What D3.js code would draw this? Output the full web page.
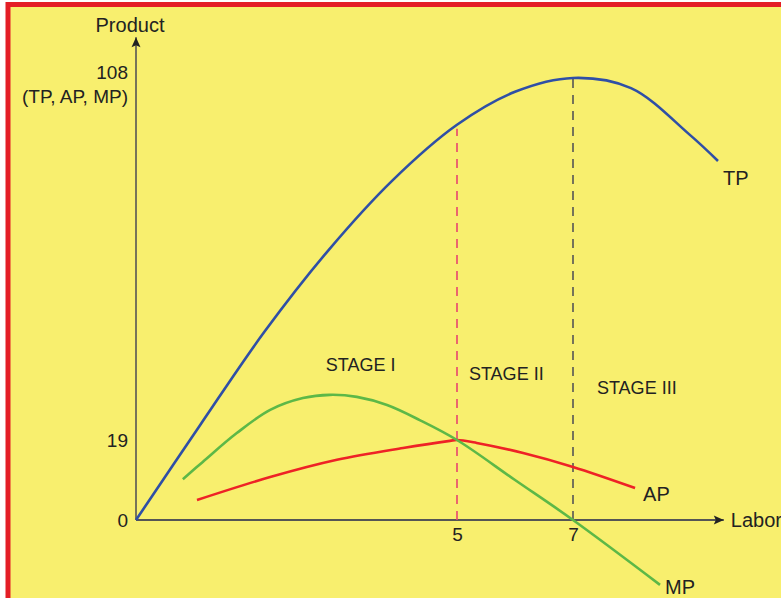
<!DOCTYPE html>
<html>
<head>
<meta charset="utf-8">
<script src="https://cdn.jsdelivr.net/npm/d3@7"></script>
<style>
  body { margin: 0; background: #fff; }
  text { font-family: "Liberation Sans", Arial, sans-serif; fill: #222; }
</style>
</head>
<body>
<div id="chart"></div>
<script>
// labor units and product values
var tpLabor = [0, 1, 2, 3, 4, 5, 6, 7, 8, 9, 9.5];
var tpValues = [0, 22.7, 45.6, 65.7, 82.9, 96.5, 104.6, 108, 105.5, 94.2, 87.6];

var apLabor = [0.95, 2.09, 3.13, 4.16, 4.89, 5, 5.34, 6.14, 7, 8.07];
var apValues = [4.75, 10.2, 14.3, 17.1, 18.8, 19, 18.3, 15.9, 12.6, 7.6];

var mpLabor = [0.73, 1.04, 1.57, 2.09, 2.6, 3.02, 3.44, 3.91, 4.42, 5, 6, 7, 8.5];
var mpValues = [9.7, 13.8, 20.7, 26.4, 29.3, 30.1, 29.6, 27.6, 23.9, 19, 9.5, 0, -15.4];

var xTicks = [5, 7];
var yTicks = [0, 19, 108];
var stages = ["STAGE I", "STAGE II", "STAGE III"];
var stageLabor = [3.5, 5.85, 8.1];
var stageValue = [37.5, 35.2, 31.8];

var width = 781, height = 598;

var svg = d3.select("#chart")
  .append("svg")
    .attr("width", width)
    .attr("height", height);

// yellow panel with red frame (top and left edges visible)
svg.append("rect")
    .attr("x", 8)
    .attr("y", 4.5)
    .attr("width", 900)
    .attr("height", 700)
    .style("fill", "#f8ef6e")
    .style("stroke", "#e41e26")
    .style("stroke-width", 5);

// schematic scales (not evenly spaced in the original)
var x = d3.scaleLinear().domain([0, 5, 7]).range([136, 457, 573]);
var y = d3.scaleLinear().domain([0, 19, 108]).range([520, 440, 78]);

var xEnd = 9.6, yEnd = 118;

svg.append("defs").append("marker")
    .attr("id", "arrow")
    .attr("viewBox", "0 -5 10 10")
    .attr("refX", 10)
    .attr("refY", 0)
    .attr("markerUnits", "userSpaceOnUse")
    .attr("markerWidth", 12)
    .attr("markerHeight", 10)
    .attr("orient", "auto")
  .append("path")
    .attr("d", "M0,-4.5L10,0L0,4.5L2,0Z")
    .style("fill", "#222");

// axis lines
svg.append("line")
    .attr("x1", x(0)).attr("y1", y(0))
    .attr("x2", x(xEnd)).attr("y2", y(0))
    .style("stroke", "#555")
    .style("stroke-width", 2)
    .attr("marker-end", "url(#arrow)");
svg.append("line")
    .attr("x1", x(0)).attr("y1", y(0))
    .attr("x2", x(0)).attr("y2", y(yEnd))
    .style("stroke", "#555")
    .style("stroke-width", 1.6)
    .attr("marker-end", "url(#arrow)");

// tick labels
var xAxis = svg.append("g")
    .attr("transform", "translate(0," + y(0) + ")")
    .call(d3.axisBottom(x).tickValues(xTicks).tickFormat(d3.format("d")).tickSize(0).tickPadding(8));
var yAxis = svg.append("g")
    .attr("transform", "translate(" + x(0) + ",0)")
    .call(d3.axisLeft(y).tickValues(yTicks).tickFormat(d3.format("d")).tickSize(0).tickPadding(8));
[xAxis, yAxis].forEach(function(a) {
  a.select(".domain").remove();
  a.selectAll("text")
    .style("font-family", "'Liberation Sans', Arial, sans-serif")
    .style("font-size", "19px")
    .style("fill", "#222");
});
yAxis.selectAll(".tick").filter(function(d) { return d == 108; })
  .select("text").attr("y", -6);

svg.append("text")
    .attr("x", x(0) - 8)
    .attr("y", y(108) + 19)
    .attr("dy", "0.32em")
    .attr("text-anchor", "end")
    .style("font-size", "19px")
    .text("(TP, AP, MP)");

svg.append("text")
    .attr("x", x(0) - 6)
    .attr("y", 32)
    .attr("text-anchor", "middle")
    .style("font-size", "20px")
    .text("Product");
svg.append("text")
    .attr("x", x(xEnd) + 7)
    .attr("y", y(0))
    .attr("dy", "0.35em")
    .style("font-size", "20px")
    .text("Labor");

// stage divider lines
svg.append("line")
    .attr("x1", x(5)).attr("y1", y(0))
    .attr("x2", x(5)).attr("y2", y(tpValues[5]) + 4)
    .style("stroke", "#e8456e")
    .style("stroke-width", 1.6)
    .style("stroke-dasharray", "9,7");
svg.append("line")
    .attr("x1", x(7)).attr("y1", y(0))
    .attr("x2", x(7)).attr("y2", y(tpValues[7]))
    .style("stroke", "#555")
    .style("stroke-width", 1.6)
    .style("stroke-dasharray", "9,7");

// curves
var line = d3.line()
    .x(function(d) { return x(d[0]); })
    .y(function(d) { return y(d[1]); })
    .curve(d3.curveCatmullRom.alpha(0.5));

var curves = [
  {labor: tpLabor, values: tpValues, color: "#2f4fa6"},
  {labor: apLabor, values: apValues, color: "#ee2226"},
  {labor: mpLabor, values: mpValues, color: "#5db847"}
];
curves.forEach(function(c) {
  svg.append("path")
      .datum(d3.zip(c.labor, c.values))
      .attr("fill", "none")
      .style("stroke", c.color)
      .attr("stroke-width", 2.6)
      .attr("d", line);
});

// curve labels
svg.append("text").attr("x", x(9.5) + 5).attr("y", y(tpValues[10]) + 17)
    .attr("dy", "0.35em").style("font-size", "20px").text("TP");
svg.append("text").attr("x", x(8.07) + 8).attr("y", y(apValues[9]) + 6)
    .attr("dy", "0.35em").style("font-size", "20px").text("AP");
svg.append("text").attr("x", x(8.5) + 5).attr("y", y(mpValues[12]) + 2)
    .attr("dy", "0.35em").style("font-size", "20px").text("MP");

// stage labels
svg.selectAll(".stage")
  .data(stages)
  .enter()
  .append("text")
    .attr("class", "stage")
    .attr("x", function(d, i) { return x(stageLabor[i]); })
    .attr("y", function(d, i) { return y(stageValue[i]); })
    .attr("dy", "0.35em")
    .attr("text-anchor", "middle")
    .style("font-size", "18px")
    .text(function(d) { return d; });
</script>
</body>
</html>
